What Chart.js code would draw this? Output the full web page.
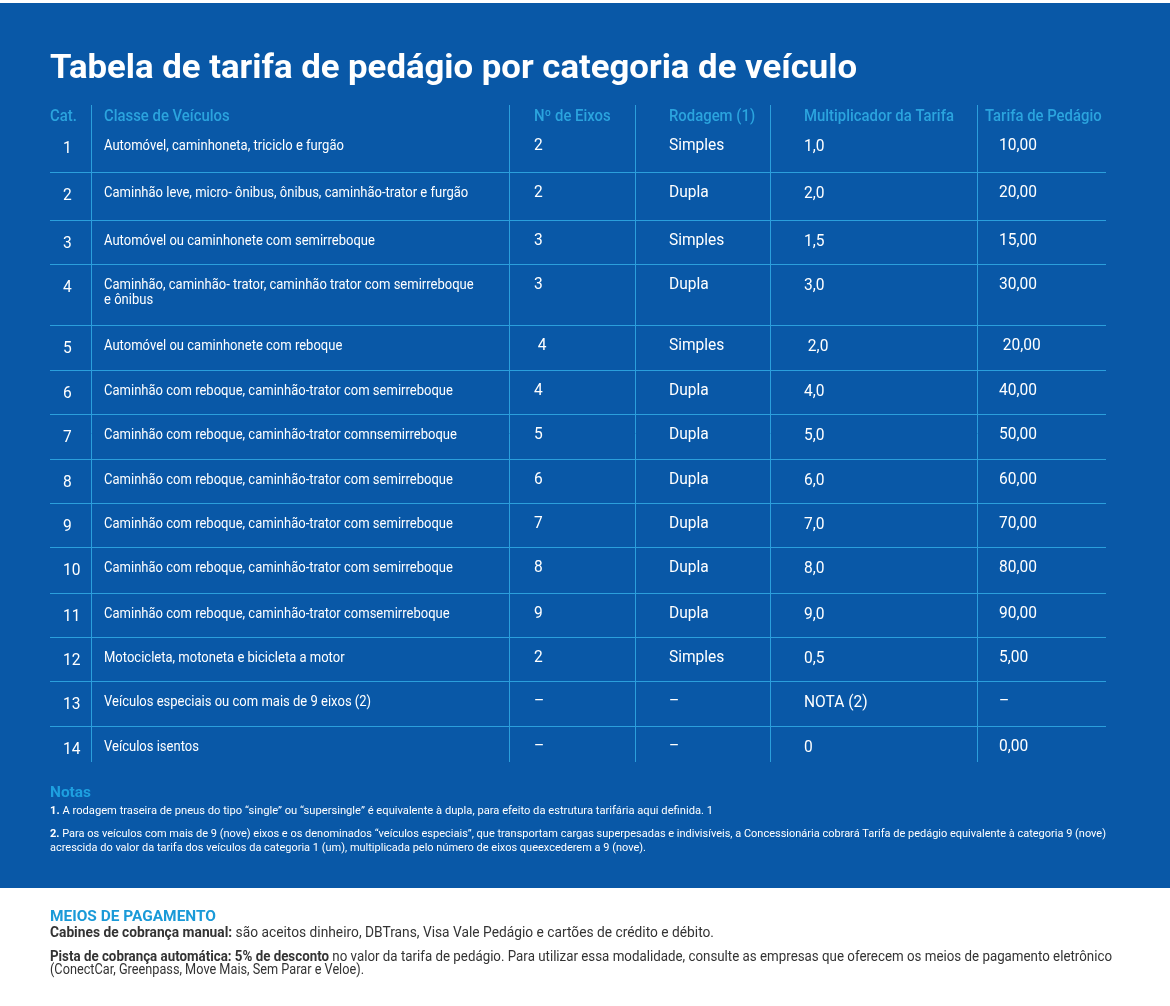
<!DOCTYPE html>
<html lang="pt-BR">
<head>
<meta charset="utf-8">
<title>Tabela de tarifa de pedágio por categoria de veículo</title>
<script src="https://cdn.jsdelivr.net/npm/chart.js@4.4.1/dist/chart.umd.min.js"></script>
<style>
  html, body { margin: 0; padding: 0; background: #ffffff; }
  canvas { display: block; }
</style>
</head>
<body>
<canvas id="c" width="1170" height="1006"></canvas>
<script>
// ---------------- DATA ----------------
const titleText = 'Tabela de tarifa de pedágio por categoria de veículo';
const headers = ['Cat.', 'Classe de Veículos', 'Nº de Eixos', 'Rodagem (1)', 'Multiplicador da Tarifa', 'Tarifa de Pedágio'];
const categories = ['1','2','3','4','5','6','7','8','9','10','11','12','13','14'];
const classes = [
  'Automóvel, caminhoneta, triciclo e furgão',
  'Caminhão leve, micro- ônibus, ônibus, caminhão-trator e furgão',
  'Automóvel ou caminhonete com semirreboque',
  'Caminhão, caminhão- trator, caminhão trator com semirreboque\ne ônibus',
  'Automóvel ou caminhonete com reboque',
  'Caminhão com reboque, caminhão-trator com semirreboque',
  'Caminhão com reboque, caminhão-trator comnsemirreboque',
  'Caminhão com reboque, caminhão-trator com semirreboque',
  'Caminhão com reboque, caminhão-trator com semirreboque',
  'Caminhão com reboque, caminhão-trator com semirreboque',
  'Caminhão com reboque, caminhão-trator comsemirreboque',
  'Motocicleta, motoneta e bicicleta a motor',
  'Veículos especiais ou com mais de 9 eixos (2)',
  'Veículos isentos'
];
const eixos = ['2','2','3','3',' 4','4','5','6','7','8','9','2','–','–'];
const rodagem = ['Simples','Dupla','Simples','Dupla','Simples','Dupla','Dupla','Dupla','Dupla','Dupla','Dupla','Simples','–','–'];
const multiplicador = ['1,0','2,0','1,5','3,0',' 2,0','4,0','5,0','6,0','7,0','8,0','9,0','0,5','NOTA (2)','0'];
const tarifa = ['10,00','20,00','15,00','30,00',' 20,00','40,00','50,00','60,00','70,00','80,00','90,00','5,00','–','0,00'];

const notesTitle = 'Notas';
const note1 = [['1.', true], [' A rodagem traseira de pneus do tipo “single” ou “supersingle” é equivalente à dupla, para efeito da estrutura tarifária aqui definida. 1', false]];
const note2a = [['2.', true], [' Para os veículos com mais de 9 (nove) eixos e os denominados “veículos especiais”, que transportam cargas superpesadas e indivisíveis, a Concessionária cobrará Tarifa de pedágio equivalente à categoria 9 (nove)', false]];
const note2b = [['acrescida do valor da tarifa dos veículos da categoria 1 (um), multiplicada pelo número de eixos queexcederem a 9 (nove).', false]];

const payTitle = 'MEIOS DE PAGAMENTO';
const pay1 = [['Cabines de cobrança manual:', true], [' são aceitos dinheiro, DBTrans, Visa Vale Pedágio e cartões de crédito e débito.', false]];
const pay2a = [['Pista de cobrança automática: 5% de desconto', true], [' no valor da tarifa de pedágio. Para utilizar essa modalidade, consulte as empresas que oferecem os meios de pagamento eletrônico', false]];
const pay2b = [['(ConectCar, Greenpass, Move Mais, Sem Parar e Veloe).', false]];

// ---------------- LAYOUT (table space, px from table top-left) ----------------
const columns = [categories, classes, eixos, rodagem, multiplicador, tarifa];
const colEdges = [41, 459, 585, 720, 927];            // vertical separators
const cellX = [13, 54, 484, 619, 754, 949];          // text anchor per column
const headX = [0, 54, 484, 619, 754, 935];           // header anchor per column
const rowEdges = [20, 67, 115, 159, 220, 265, 309, 354, 398, 442, 488, 532, 576, 621, 657];
const colDy = [2, 0, -1, -1, 0, -1];
const TABLE_W = 1056, TABLE_H = 657;

const BLUE = '#0958a7';
const LINE = '#2b9fdc';
const HEAD = '#2ba4de';
const FONT = 'Roboto, "Open Sans", sans-serif';

function drawRuns(ctx, runs, x, y, size, color, fitWidth, boldColor) {
  let total = 0;
  const ws = runs.map(([t, b]) => {
    ctx.font = (b ? '700 ' : '400 ') + size + 'px ' + FONT;
    const w = ctx.measureText(t).width; total += w; return w;
  });
  const k = fitWidth / total;
  ctx.save();
  ctx.translate(x, y); ctx.scale(k, 1);
  ctx.textBaseline = 'alphabetic'; ctx.textAlign = 'left';
  let cx = 0;
  runs.forEach(([t, b], i) => {
    ctx.font = (b ? '700 ' : '400 ') + size + 'px ' + FONT;
    ctx.fillStyle = (b && boldColor) ? boldColor : color;
    ctx.fillText(t, cx, 0);
    cx += ws[i];
  });
  ctx.restore();
}

function drawScaled(ctx, text, x, yCenter, font, size, color, sx) {
  ctx.save();
  ctx.font = font;
  ctx.fillStyle = color;
  ctx.textBaseline = 'alphabetic'; ctx.textAlign = 'left';
  ctx.translate(x, yCenter + size * 0.355);
  ctx.scale(sx, 1);
  ctx.fillText(text, 0, 0);
  ctx.restore();
}

const pagePlugin = {
  id: 'page',
  beforeDraw(chart) {
    const ctx = chart.ctx;
    ctx.save();
    ctx.fillStyle = '#ffffff';
    ctx.fillRect(0, 0, chart.width, chart.height);
    ctx.fillStyle = BLUE;
    ctx.fillRect(0, 3, chart.width, 885);
    ctx.restore();
  },
  afterDraw(chart) {
    const ctx = chart.ctx;
    const xs = chart.scales.x, ys = chart.scales.y;
    // title
    drawRuns(ctx, [[titleText, true]], 50, 78, 33, '#ffffff', 807);
    // headers
    headers.forEach((h, c) => {
      drawScaled(ctx, h, xs.getPixelForValue(headX[c]), ys.getPixelForValue(10),
        '500 16px ' + FONT, 16, HEAD, 0.93);
    });
    // cells
    chart.data.datasets.forEach((ds, c) => {
      const meta = chart.getDatasetMeta(c);
      meta.data.forEach((el, i) => {
        const lines = String(ds.texts[i]).split('\n');
        lines.forEach((ln, j) => {
          if (c === 1) {
            drawScaled(ctx, ln, el.x, el.y + j * 15, '400 14px ' + FONT, 14, '#ffffff', 0.93);
          } else {
            drawScaled(ctx, ln, el.x, el.y, '400 16px ' + FONT, 16, '#ffffff', 0.97);
          }
        });
      });
    });
    // notes
    drawRuns(ctx, [[notesTitle, true]], 50, 797, 14, '#1ea0e0', 41);
    drawRuns(ctx, note1, 50, 814, 11, '#ffffff', 663);
    drawRuns(ctx, note2a, 50, 837, 11, '#ffffff', 1056);
    drawRuns(ctx, note2b, 50, 851, 11, '#ffffff', 596);
    // payment
    drawRuns(ctx, [[payTitle, true]], 50, 921, 15, '#1a9ad8', 166);
    drawRuns(ctx, pay1, 50, 937, 14, '#333333', 664);
    drawRuns(ctx, pay2a, 50, 961, 14, '#333333', 1062);
    drawRuns(ctx, pay2b, 50, 974, 14, '#333333', 314);
  }
};

const datasets = columns.map((col, c) => ({
  label: headers[c],
  texts: col,
  data: col.map((v, i) => ({ x: cellX[c], y: rowEdges[i] + 20 + colDy[c] })),
  pointRadius: 0,
  pointHoverRadius: 0,
  showLine: false
}));

new Chart(document.getElementById('c'), {
  type: 'scatter',
  data: { datasets },
  options: {
    responsive: false,
    animation: false,
    events: [],
    layout: { padding: { left: 50, right: 64, top: 105, bottom: 244 } },
    plugins: { legend: { display: false }, tooltip: { enabled: false }, title: { display: false } },
    scales: {
      x: {
        type: 'linear', min: 0, max: TABLE_W,
        grid: { color: LINE, lineWidth: 1, drawTicks: false },
        border: { display: false },
        ticks: { display: false },
        afterBuildTicks: s => { s.ticks = colEdges.map(v => ({ value: v })); }
      },
      y: {
        type: 'linear', min: 0, max: TABLE_H, reverse: true,
        grid: { color: LINE, lineWidth: 1, drawTicks: false },
        border: { display: false },
        ticks: { display: false },
        afterBuildTicks: s => { s.ticks = rowEdges.slice(1, -1).map(v => ({ value: v })); }
      }
    }
  },
  plugins: [pagePlugin]
});
</script>
</body>
</html>
